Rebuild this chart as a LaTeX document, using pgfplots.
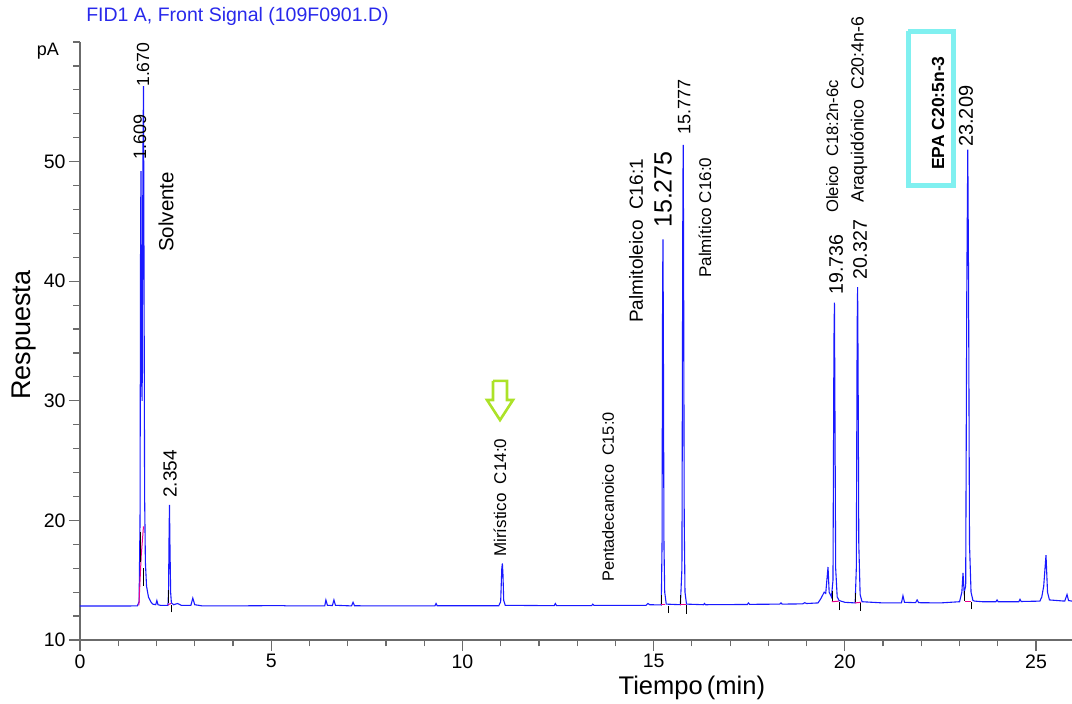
\documentclass[border=0pt]{standalone}
\usepackage{fontspec}
\setmainfont{Liberation Sans}
\usepackage{pgfplots}
\pgfplotsset{compat=1.18}
\definecolor{trace}{rgb}{0.1,0.1,1}
\definecolor{axgray}{rgb}{0.42,0.42,0.42}
\definecolor{boxcyan}{RGB}{128,240,240}
\definecolor{arrowgreen}{RGB}{172,226,40}
\definecolor{title}{RGB}{40,40,235}
\newcommand{\fs}[1]{\fontsize{#1}{#1}\selectfont}
\begin{document}
\begin{tikzpicture}
\useasboundingbox (-80pt,-64pt) rectangle (992pt,640pt);
\begin{axis}[
  at={(0pt,0pt)}, anchor=south west,
  scale only axis, width=992pt, height=598pt,
  xmin=0, xmax=25.94, ymin=10, ymax=60,
  axis x line=bottom, axis y line=left,
  axis line style={-, axgray, line width=1.3pt},
  tick align=outside,
  xtick={0,5,...,25}, minor xtick={1,2,3,4,6,7,8,9,11,12,13,14,16,17,18,19,21,22,23,24},
  ytick={10,20,...,50}, minor ytick={12,14,...,60},
  major tick length=11pt, minor tick length=6.5pt,
  every tick/.style={axgray, line width=1.2pt},
  tick label style={font=\fs{19.5}, black},
  /pgf/number format/assume math mode=true,
  clip=false,
]
% chromatogram trace
\addplot[trace, line width=1.1pt] coordinates {
(0,12.84) (0.5,12.84) (1.0,12.84) (1.50,12.85) (1.545,13.2) (1.57,20) (1.585,45) (1.595,49.2) (1.61,32) (1.625,30)
(1.645,50) (1.66,56.3) (1.675,40) (1.69,22) (1.71,16.5) (1.74,14.5) (1.79,13.6) (1.85,13.2) (1.90,13.0) (1.98,12.95)
(2.01,13.3) (2.04,12.95) (2.10,12.9) (2.30,12.9) (2.315,14) (2.33,19) (2.34,21.3) (2.352,18) (2.37,14) (2.39,13.1)
(2.45,12.95) (2.55,13.05) (2.65,12.9) (2.90,12.9) (2.95,13.5) (3.0,12.95) (3.2,12.85) (4.0,12.85) (5.3,12.88) (5.4,12.85)
(6.40,12.85) (6.43,13.35) (6.47,12.9) (6.60,12.88) (6.64,13.35) (6.68,12.9) (7.10,12.85) (7.14,13.15) (7.18,12.86)
(9.28,12.85) (9.31,13.05) (9.34,12.86) (10.95,12.86) (11.00,13.2) (11.03,16.0) (11.045,16.4) (11.06,15.5) (11.08,13.3) (11.12,12.9)
(12.40,12.87) (12.43,13.05) (12.46,12.88) (13.38,12.88) (13.41,13.0) (13.44,12.9) (14.80,12.9) (14.85,13.05) (14.9,12.95)
(15.20,12.93) (15.22,18) (15.235,40) (15.245,43.5) (15.255,35) (15.27,18) (15.29,14) (15.33,13.0)
(15.70,12.95) (15.74,16) (15.765,48) (15.775,51.4) (15.785,40) (15.80,20) (15.82,14) (15.86,13.0)
(16.30,12.95) (16.33,13.05) (16.36,12.95) (17.45,12.97) (17.48,13.1) (17.51,12.98) (18.30,13.0) (18.33,13.1) (18.36,13.0)
(18.90,13.02) (18.95,13.12) (19.0,13.05) (19.3,13.1) (19.38,13.5) (19.46,14.0) (19.50,13.9) (19.53,15.0) (19.56,16.1) (19.59,14.0)
(19.65,13.6) (19.69,15) (19.715,35) (19.728,38.2) (19.74,30) (19.76,16) (19.80,13.6) (19.85,13.3) (20.0,13.15)
(20.27,13.1) (20.30,16) (20.322,36) (20.334,39.5) (20.346,33) (20.365,18) (20.40,13.8) (20.45,13.2) (21.0,13.1)
(21.48,13.1) (21.52,13.7) (21.56,13.15) (21.85,13.12) (21.89,13.35) (21.93,13.12) (22.5,13.1) (23.0,13.2)
(23.06,14.0) (23.09,15.6) (23.12,14.0) (23.16,14.5) (23.19,40) (23.215,51.0) (23.235,40) (23.26,18) (23.30,14) (23.35,13.3)
(23.40,13.25) (23.6,13.2) (23.95,13.2) (23.98,13.35) (24.01,13.2) (24.55,13.2) (24.58,13.4) (24.61,13.22)
(25.10,13.25) (25.15,13.6) (25.20,14.5) (25.26,17.1) (25.30,14.0) (25.35,13.35) (25.75,13.25) (25.81,13.8) (25.85,13.3) (25.94,13.25)
};
% integration baselines (magenta)
\addplot[magenta, line width=1pt] coordinates {(1.54,12.9) (1.60,17) (1.66,19.5)};
\addplot[magenta, line width=1pt] coordinates {(2.30,12.95) (2.38,13.05)};
\addplot[magenta, line width=1pt] coordinates {(15.20,12.95) (15.31,12.95)};
\addplot[magenta, line width=1pt] coordinates {(15.70,12.98) (15.84,12.98)};
\addplot[magenta, line width=1pt] coordinates {(19.66,13.2) (19.85,13.25)};
\addplot[magenta, line width=1pt] coordinates {(20.26,13.1) (20.42,13.15)};
\addplot[magenta, line width=1pt] coordinates {(23.14,13.25) (23.30,13.25)};
% peak start/end marks
\addplot[black, line width=0.9pt] coordinates {(1.585,16.5) (1.585,19)};
\addplot[black, line width=0.9pt] coordinates {(1.67,14.5) (1.67,16)};
\addplot[black, line width=0.9pt] coordinates {(2.31,13.1) (2.31,14.2)};
\addplot[black, line width=0.9pt] coordinates {(2.38,12.3) (2.38,12.9)};
\addplot[black, line width=0.9pt] coordinates {(15.20,13.0) (15.20,13.8)};
\addplot[black, line width=0.9pt] coordinates {(15.38,12.25) (15.38,12.85)};
\addplot[black, line width=0.9pt] coordinates {(15.70,13.0) (15.70,13.8)};
\addplot[black, line width=0.9pt] coordinates {(15.85,12.2) (15.85,12.9)};
\addplot[black, line width=0.9pt] coordinates {(19.67,13.3) (19.67,14.1)};
\addplot[black, line width=0.9pt] coordinates {(19.85,12.5) (19.85,13.2)};
\addplot[black, line width=0.9pt] coordinates {(20.27,13.15) (20.27,13.9)};
\addplot[black, line width=0.9pt] coordinates {(20.40,12.45) (20.40,13.1)};
\addplot[black, line width=0.9pt] coordinates {(23.14,13.3) (23.14,14.1)};
\addplot[black, line width=0.9pt] coordinates {(23.30,12.55) (23.30,13.2)};
% green hollow arrow
\addplot[arrowgreen, line width=2.6pt, line join=miter] coordinates {
(10.80,31.66) (11.166,31.66) (11.166,30.07) (11.323,30.07) (10.983,28.39) (10.643,30.07) (10.80,30.07) (10.80,31.66)};
% EPA box
\addplot[boxcyan, line width=5pt, line join=miter] coordinates {
(21.66,60.88) (22.84,60.88) (22.84,48.0) (21.66,48.0) (21.66,60.88)};

% texts
\node[anchor=west, inner sep=0pt, text=title] at (axis cs:0.16,62.1) {\fs{19.5}FID1 A, Front Signal (109F0901.D)};
\node[inner sep=0pt] at (axis cs:-0.84,59.2) {\fs{18}pA};
\node[rotate=90, inner sep=0pt] at (axis cs:-1.46,35.5) {\fs{27}Respuesta};
\node[inner sep=0pt] at (axis cs:16.0,6.0) {\fs{25.5}Tiempo\,(min)};

\begin{scope}[every node/.style={rotate=90, anchor=west, inner sep=0pt}]
\node at (axis cs:1.569,50.13) {\fs{18}1.609};
\node at (axis cs:1.648,56.24) {\fs{17.6}1.670};
\node at (axis cs:2.249,42.44) {\fs{20.5}Solvente};
\node at (axis cs:2.354,21.87) {\fs{19}2.354};
\node at (axis cs:10.98,16.94) {\fs{17}Mirístico\ \ C14:0};
\node at (axis cs:13.81,14.85) {\fs{16.3}Pentadecanoico\ \ C15:0};
\node at (axis cs:14.54,36.51) {\fs{19}Palmitoleico\ \ C16:1};
\node at (axis cs:15.246,44.45) {\fs{25}15.275};
\node at (axis cs:15.80,52.22) {\fs{18}15.777};
\node at (axis cs:16.34,40.27) {\fs{17}Palmítico C16:0};
\node at (axis cs:19.67,45.70) {\fs{16.6}Oleico\ \ C18:2n-6c};
\node at (axis cs:19.77,38.85) {\fs{19.6}19.736};
\node at (axis cs:20.37,46.54) {\fs{17.7}Araquidónico\ \ C20:4n-6};
\node at (axis cs:20.40,40.10) {\fs{19.6}20.327};
\node at (axis cs:22.44,49.30) {\fs{17.5}\bfseries EPA C20:5n-3};
\node at (axis cs:23.17,51.22) {\fs{20}23.209};
\end{scope}
\end{axis}
\end{tikzpicture}
\end{document}
